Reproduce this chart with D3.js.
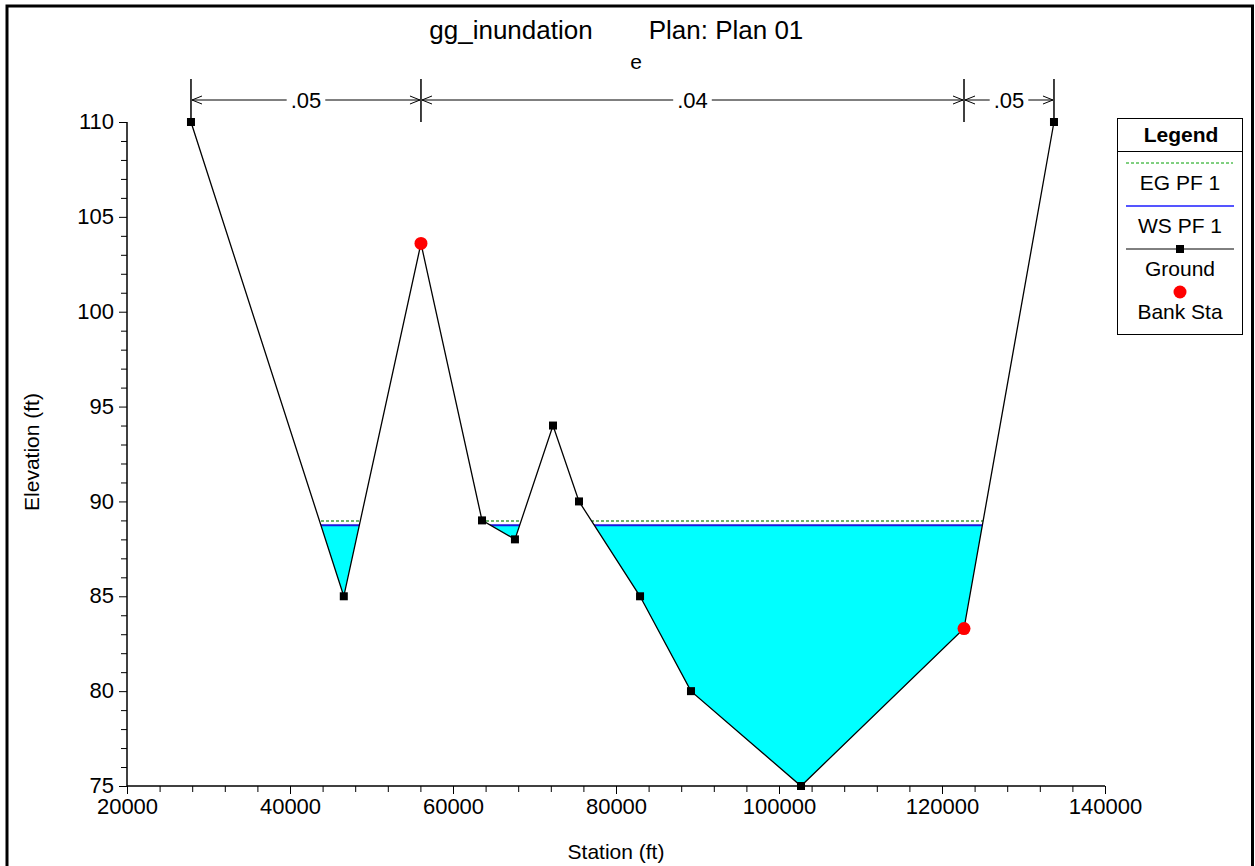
<!DOCTYPE html>
<html>
<head>
<meta charset="utf-8">
<script src="https://cdn.jsdelivr.net/npm/d3@7/dist/d3.min.js"></script>
<style>
  html, body { margin: 0; padding: 0; background: #fff; }
  svg { display: block; font-family: Arial, "Liberation Sans", sans-serif; }
</style>
</head>
<body>
<svg id="chart" width="1255" height="866"></svg>
<script>
// ---- data ----
const groundStation = [27850, 46600, 56070, 63560, 67600, 72270, 75460, 82950, 89200, 102700, 122700, 133740];
const groundElev    = [110, 85, 103.6, 89, 88, 94, 90, 85, 80, 75, 83.3, 110];
const bankStation   = [56070, 122700];
const bankElev      = [103.6, 83.3];
const wsElev = 88.75;   // WS PF 1
const egElev = 88.97;   // EG PF 1
const manningBreaks = [27850, 56070, 122700, 133740];
const manningValues = [".05", ".04", ".05"];
const xTicks = [20000, 40000, 60000, 80000, 100000, 120000, 140000];
const yTicks = [75, 80, 85, 90, 95, 100, 105, 110];
const legendItems = ["EG PF 1", "WS PF 1", "Ground", "Bank Sta"];
const titleLeft = "gg_inundation", titleRight = "Plan: Plan 01", subTitle = "e";

// ---- layout ----
const FONT = "Arial, 'Liberation Sans', sans-serif";
const svg = d3.select("#chart");
const x = d3.scaleLinear().domain([20000, 140000]).range([127, 1105]);
const y = d3.scaleLinear().domain([75, 110]).range([786, 122]);
const ground = groundStation.map((s, i) => [s, groundElev[i]]);

// outer frame
svg.append("rect").attr("x", 7).attr("y", 6).attr("width", 1245.5).attr("height", 880)
  .attr("fill", "none").attr("stroke", "#000").attr("stroke-width", 3);

// titles
svg.append("text").attr("x", 511).attr("y", 39).attr("text-anchor", "middle")
  .attr("font-size", 26).text(titleLeft);
svg.append("text").attr("x", 726).attr("y", 39).attr("text-anchor", "middle")
  .attr("font-size", 26).text(titleRight);
svg.append("text").attr("x", 636).attr("y", 69).attr("text-anchor", "middle")
  .attr("font-size", 21).text(subTitle);

// clip: region above ground
const clipPts = ground.map(d => [x(d[0]), y(d[1])]);
clipPts.push([x(groundStation[groundStation.length - 1]), 0], [x(groundStation[0]), 0]);
svg.append("clipPath").attr("id", "aboveGround").append("path")
  .attr("d", "M" + clipPts.map(p => p.join(",")).join("L") + "Z");

const waterG = svg.append("g").attr("clip-path", "url(#aboveGround)");
const x0 = groundStation[0], x1 = groundStation[groundStation.length - 1];
waterG.append("rect").attr("x", x(x0)).attr("width", x(x1) - x(x0))
  .attr("y", y(wsElev)).attr("height", y(75) - y(wsElev)).attr("fill", "#00FFFF");
waterG.append("line").attr("x1", x(x0)).attr("x2", x(x1)).attr("y1", y(egElev)).attr("y2", y(egElev))
  .attr("stroke", "#3a9a3a").attr("stroke-width", 1.5).attr("stroke-dasharray", "3,2");
waterG.append("line").attr("x1", x(x0)).attr("x2", x(x1)).attr("y1", y(wsElev)).attr("y2", y(wsElev))
  .attr("stroke", "#1a1ae0").attr("stroke-width", 2);

// axes
const xAxis = svg.append("g").attr("transform", `translate(0,${y(75)})`)
  .call(d3.axisBottom(x).tickValues(d3.range(20000, 140001, 4000)).tickSize(6)
    .tickFormat(d => xTicks.includes(d) ? d : ""));
xAxis.selectAll(".tick line").attr("y2", d => xTicks.includes(d) ? 8 : 6);
xAxis.selectAll("text").attr("font-size", 22).attr("font-family", FONT)
  .attr("fill", "#000").attr("dy", "0.9em").attr("y", 8);
const yAxis = svg.append("g").attr("transform", `translate(${x(20000)},0)`)
  .call(d3.axisLeft(y).tickValues(d3.range(75, 110.001, 1)).tickSize(6)
    .tickFormat(d => yTicks.includes(d) ? d : ""));
yAxis.selectAll(".tick line").attr("x2", d => yTicks.includes(d) ? -8 : -6);
yAxis.selectAll("text").attr("font-size", 22).attr("font-family", FONT)
  .attr("fill", "#000").attr("x", -13).attr("dy", "0.3em");
svg.selectAll(".domain").attr("stroke", "#000").attr("stroke-width", 1.5);
xAxis.select(".domain").attr("d", `M${x(20000)},0H${x(140000)}`);
yAxis.select(".domain").attr("d", `M0,${y(75)}V${y(110)}`);

svg.append("text").attr("x", 616).attr("y", 859).attr("text-anchor", "middle")
  .attr("font-size", 21).text("Station (ft)");
svg.append("text").attr("transform", "translate(39,452) rotate(-90)").attr("text-anchor", "middle")
  .attr("font-size", 21).text("Elevation (ft)");

// ground line & markers
svg.append("path").datum(ground)
  .attr("d", d3.line().x(d => x(d[0])).y(d => y(d[1])))
  .attr("fill", "none").attr("stroke", "#000").attr("stroke-width", 1.3);
svg.selectAll(".gpt").data(ground).enter().append("rect")
  .attr("x", d => x(d[0]) - 4).attr("y", d => y(d[1]) - 4).attr("width", 8).attr("height", 8).attr("fill", "#000");
svg.selectAll(".bpt").data(bankStation).enter().append("circle")
  .attr("cx", d => x(d)).attr("cy", (d, i) => y(bankElev[i])).attr("r", 6.5).attr("fill", "#ff0000");

// manning n bar
const mY = 100;
manningBreaks.forEach((s, i) => {
  const last = i === 0 || i === manningBreaks.length - 1;
  svg.append("line").attr("x1", x(s)).attr("x2", x(s)).attr("y1", 79).attr("y2", last ? 118 : 122)
    .attr("stroke", "#000").attr("stroke-width", 1.5);
});
manningValues.forEach((v, i) => {
  const a = x(manningBreaks[i]), b = x(manningBreaks[i + 1]);
  svg.append("line").attr("x1", a + 1).attr("x2", b - 1).attr("y1", mY).attr("y2", mY)
    .attr("stroke", "#000").attr("stroke-width", 1);
  svg.append("path").attr("d", `M${a + 11},${mY - 4}L${a + 1},${mY}L${a + 11},${mY + 4}`)
    .attr("fill", "none").attr("stroke", "#000").attr("stroke-width", 1);
  svg.append("path").attr("d", `M${b - 11},${mY - 4}L${b - 1},${mY}L${b - 11},${mY + 4}`)
    .attr("fill", "none").attr("stroke", "#000").attr("stroke-width", 1);
  const t = svg.append("text").attr("x", (a + b) / 2).attr("y", mY + 8).attr("text-anchor", "middle")
    .attr("font-size", 22).text(v);
  const bb = t.node().getBBox();
  svg.insert("rect", () => t.node()).attr("x", bb.x - 4).attr("y", mY - 3).attr("width", bb.width + 8)
    .attr("height", 6).attr("fill", "#fff");
});

// legend
const lg = svg.append("g");
lg.append("rect").attr("x", 1117.5).attr("y", 118.5).attr("width", 125).attr("height", 216)
  .attr("fill", "#fff").attr("stroke", "#000").attr("stroke-width", 1);
lg.append("line").attr("x1", 1117.5).attr("x2", 1242.5).attr("y1", 151.5).attr("y2", 151.5).attr("stroke", "#000");
lg.append("text").attr("x", 1181).attr("y", 142).attr("text-anchor", "middle").attr("font-size", 21)
  .attr("font-weight", "bold").text("Legend");
const rowY = [163, 206, 249, 292];
lg.append("line").attr("x1", 1126).attr("x2", 1233).attr("y1", rowY[0]).attr("y2", rowY[0])
  .attr("stroke", "#00a000").attr("stroke-width", 1).attr("stroke-dasharray", "3,2");
lg.append("line").attr("x1", 1126).attr("x2", 1234).attr("y1", rowY[1]).attr("y2", rowY[1])
  .attr("stroke", "#5555ff").attr("stroke-width", 2);
lg.append("line").attr("x1", 1126).attr("x2", 1234).attr("y1", rowY[2]).attr("y2", rowY[2])
  .attr("stroke", "#000").attr("stroke-width", 1);
lg.append("rect").attr("x", 1176).attr("y", rowY[2] - 4).attr("width", 8).attr("height", 8).attr("fill", "#000");
lg.append("circle").attr("cx", 1180).attr("cy", rowY[3]).attr("r", 6.5).attr("fill", "#ff0000");
legendItems.forEach((t, i) => {
  lg.append("text").attr("x", 1180).attr("y", rowY[i] + 27).attr("text-anchor", "middle")
    .attr("font-size", 21).text(t);
});
</script>
</body>
</html>
